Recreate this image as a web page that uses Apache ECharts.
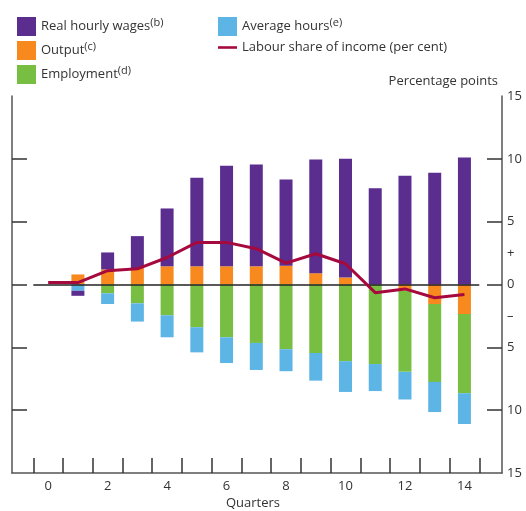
<!DOCTYPE html>
<html><head><meta charset="utf-8">
<script src="https://cdn.jsdelivr.net/npm/echarts@6/dist/echarts.min.js"></script>
<style>html,body{margin:0;padding:0;background:#fff}#c{width:526px;height:511px}</style>
</head><body><div id="c"></div>
<script>
const quarters = ['0','1','2','3','4','5','6','7','8','9','10','11','12','13','14'];
const output = [0, 0.8, 1.2, 1.3, 1.45, 1.45, 1.45, 1.45, 1.5, 0.9, 0.55, 0, -0.5, -1.55, -2.35];
const employment = [0, 0, -0.7, -1.5, -2.45, -3.4, -4.2, -4.65, -5.15, -5.45, -6.1, -6.33, -6.45, -6.2, -6.3];
const hours = [0, -0.5, -0.85, -1.45, -1.75, -2.0, -2.05, -2.15, -1.75, -2.2, -2.45, -2.15, -2.2, -2.4, -2.45];
const wages = [0, -0.4, 1.35, 2.55, 4.6, 7.05, 8.0, 8.1, 6.85, 9.05, 9.45, 7.65, 8.65, 8.9, 10.1];
const labourShare = [0.15, 0.15, 1.1, 1.25, 2.15, 3.35, 3.35, 2.85, 1.7, 2.45, 1.65, -0.65, -0.35, -1.05, -0.8];
const yTickValues = [-10,-5,0,5,10];
const yLabelValues = [-15,-10,-5,-2.5,0,2.5,5,10,15];

const names = {
  wages: 'Real hourly wages', output: 'Output', employment: 'Employment',
  hours: 'Average hours', labour: 'Labour share of income (per cent)'
};
const sup = {'Real hourly wages':'(b)','Output':'(c)','Employment':'(d)','Average hours':'(e)'};
const FONT = 'Open Sans';
const axisCol = '#555';
const tickCol = '#333';
const txtCol = '#333';
const FS = 13;

const barBase = {type:'bar', stack:'s', barWidth:13, xAxisIndex:1, yAxisIndex:2};

const legendText = {
  fontFamily: FONT, fontSize: FS, color: txtCol,
  rich: { s: { fontFamily: FONT, fontSize: 11, color: txtCol, padding:[0,0,8,0] } }
};
const legendFmt = n => sup[n] ? n + '{s|' + sup[n] + '}' : n;

const chart = echarts.init(document.getElementById('c'), null, {renderer:'canvas'});
chart.setOption({
  backgroundColor:'#fff',
  animation:false,
  textStyle:{fontFamily:FONT},
  legend:[
    {left:12, top:12, orient:'vertical', itemWidth:19, itemHeight:19, itemGap:5,
     icon:'rect', data:[names.wages, names.output, names.employment],
     textStyle: legendText, formatter: legendFmt},
    {left:213, top:12, orient:'vertical', itemWidth:19, itemHeight:19, itemGap:5,
     data:[{name:names.hours, icon:'rect'}, {name:names.labour, icon:'path://M0,0 L19,0 L19,2.6 L0,2.6 Z'}],
     textStyle: legendText, formatter: legendFmt}
  ],
  grid:[
    {left:12, right:24, top:96, bottom:38, containLabel:false, outerBoundsMode:'none'},
    {left:33.3, right:46.7, top:96, bottom:38, containLabel:false, outerBoundsMode:'none'}
  ],
  xAxis:[
    {type:'value', gridIndex:0, min:0, max:1,
     name:'Quarters', nameLocation:'middle', nameGap:24,
     nameTextStyle:{fontFamily:FONT, fontSize:FS, color:txtCol, padding:[0,8,0,0]},
     axisLine:{show:true, onZero:false, lineStyle:{color:axisCol, width:1.5}},
     axisTick:{show:false}, axisLabel:{show:false}, splitLine:{show:false}},
    {type:'category', gridIndex:1, data:quarters, boundaryGap:true, position:'bottom',
     axisLine:{show:true, onZero:false, lineStyle:{color:axisCol, width:1.5, opacity:0}},
     axisTick:{show:true, inside:true, length:15, interval:0, alignWithLabel:false, lineStyle:{color:tickCol, width:1.5}},
     axisLabel:{interval:1, fontFamily:FONT, fontSize:FS, color:txtCol, margin:7},
     splitLine:{show:false}}
  ],
  yAxis:[
    {type:'value', gridIndex:0, position:'left', min:-15, max:15,
     axisLine:{show:true, onZero:false, lineStyle:{color:axisCol, width:1.5}},
     axisTick:{show:true, inside:true, length:15, customValues:yTickValues, lineStyle:{color:tickCol, width:1.5}},
     axisLabel:{show:false}, splitLine:{show:false}},
    {type:'value', gridIndex:0, position:'right', min:-15, max:15,
     name:'Percentage points', nameLocation:'end', nameGap:8,
     nameTextStyle:{fontFamily:FONT, fontSize:FS, color:txtCol, align:'right', padding:[0,4,0,0]},
     axisLine:{show:true, onZero:false, lineStyle:{color:axisCol, width:1.5}},
     axisTick:{show:true, inside:true, length:15, customValues:yTickValues, lineStyle:{color:tickCol, width:1.5}},
     axisLabel:{customValues:yLabelValues, fontFamily:FONT, fontSize:FS, color:txtCol, margin:5,
       formatter:v => v===2.5 ? '+' : (v===-2.5 ? '\u2013' : String(Math.abs(v)))},
     splitLine:{show:false}},
    {type:'value', gridIndex:1, min:-15, max:15, show:false, splitLine:{show:false}}
  ],
  series:[
    Object.assign({}, barBase, {name:names.output, data:output, itemStyle:{color:'#F7891F'}}),
    Object.assign({}, barBase, {name:names.employment, data:employment, itemStyle:{color:'#78BE43'}}),
    Object.assign({}, barBase, {name:names.hours, data:hours, itemStyle:{color:'#5DB5E6'}}),
    Object.assign({}, barBase, {name:names.wages, data:wages, itemStyle:{color:'#5A2D8E'}}),
    {type:'line', name:names.labour, xAxisIndex:1, yAxisIndex:2, data:labourShare, symbol:'none', z:5,
     lineStyle:{color:'#A6093D', width:3}, itemStyle:{color:'#A6093D'},
     markLine:{silent:true, symbol:'none', label:{show:false}, z:4,
       lineStyle:{color:'#222', width:1.5, type:'solid'},
       data:[{yAxis:0}]}}
  ]
});
</script></body></html>
